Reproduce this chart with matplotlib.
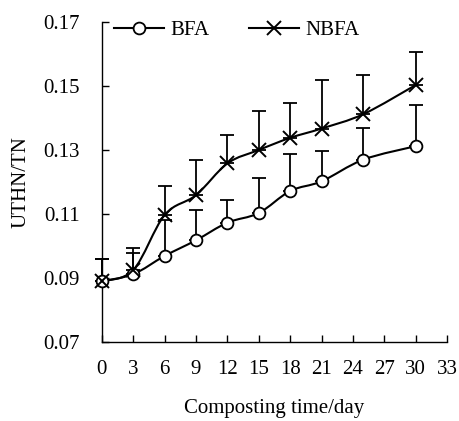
import numpy as np
import matplotlib
matplotlib.use("Agg")
import matplotlib.pyplot as plt
from matplotlib.path import Path
from matplotlib.patches import PathPatch
from matplotlib.lines import Line2D

days = [0, 3, 6, 9, 12, 15, 18, 21, 25, 30]
bfa = [0.0890, 0.0912, 0.0969, 0.1018, 0.1073, 0.1103, 0.1172, 0.1202, 0.1270, 0.1312]
bfa_top = [0.0960, 0.0978, 0.1080, 0.1113, 0.1144, 0.1212, 0.1287, 0.1297, 0.1370, 0.1440]
nbfa = [0.0890, 0.0925, 0.1097, 0.1159, 0.1258, 0.1300, 0.1338, 0.1367, 0.1412, 0.1503]
nbfa_top = [0.0960, 0.0995, 0.1188, 0.1269, 0.1347, 0.1422, 0.1447, 0.1520, 0.1533, 0.1606]
xticks = list(range(0, 34, 3))
yticks = [0.07, 0.09, 0.11, 0.13, 0.15, 0.17]

plt.rcParams['font.family'] = ['Liberation Serif', 'DejaVu Serif']

fig = plt.figure(figsize=(4.59, 4.21), dpi=100)
ax = fig.add_axes([0.222, 0.1876, 0.752, 0.7602])


def smooth_path(xs, ys):
    pts = np.column_stack([xs, ys]).astype(float)
    n = len(pts)
    verts = [pts[0]]
    codes = [Path.MOVETO]
    for i in range(n - 1):
        p0 = pts[i - 1] if i > 0 else pts[i]
        p1 = pts[i]
        p2 = pts[i + 1]
        p3 = pts[i + 2] if i + 2 < n else pts[i + 1]
        c1 = p1 + (p2 - p0) / 6.0
        c2 = p2 - (p3 - p1) / 6.0
        verts += [c1, c2, p2]
        codes += [Path.CURVE4] * 3
    return Path(verts, codes)


for y, top in [(bfa, bfa_top), (nbfa, nbfa_top)]:
    y = np.array(y)
    up = np.array(top) - y
    eb = ax.errorbar(days, y, yerr=[np.zeros_like(up), up], fmt='none',
                     ecolor='black', elinewidth=1.3, capsize=5, capthick=1.3, zorder=2)
    for art in eb.lines[1] + eb.lines[2]:
        art.set_clip_on(False)

for y in [bfa, nbfa]:
    ax.add_patch(PathPatch(smooth_path(days, y), facecolor='none',
                           edgecolor='black', lw=1.5, zorder=3, clip_on=False))

ax.plot(days, bfa, linestyle='none', marker='o', ms=8.5, mfc='white',
        mec='black', mew=1.3, zorder=4, clip_on=False)
ax.plot(days, nbfa, linestyle='none', marker='x', ms=10, mec='black',
        mew=1.4, zorder=5, clip_on=False)

h1 = Line2D([], [], color='black', lw=1.5, marker='o', ms=8.5, mfc='white', mec='black', mew=1.3)
h2 = Line2D([], [], color='black', lw=1.5, marker='x', ms=10, mec='black', mew=1.4)
ax.legend([h1, h2], ['BFA', 'NBFA'], loc='upper left', bbox_to_anchor=(0.01, 1.03),
          ncol=2, frameon=False, fontsize=15, handlelength=2.4, handletextpad=0.3,
          columnspacing=1.9, borderaxespad=0.0)

ax.set_xlim(0, 33)
ax.set_ylim(0.07, 0.17)
ax.set_xticks(xticks)
ax.set_yticks(yticks)
ax.set_yticklabels([f"{v:.2f}" for v in yticks])
ax.spines['top'].set_visible(False)
ax.spines['right'].set_visible(False)
for s in ['left', 'bottom']:
    ax.spines[s].set_linewidth(1.0)
ax.tick_params(axis='both', direction='in', length=5, width=1.0, labelsize=15)
ax.tick_params(axis='y', pad=16)
ax.tick_params(axis='x', pad=13)
ax.set_xlabel('Composting time/day', fontsize=15, labelpad=14)
ax.set_ylabel('UTHN/TN', fontsize=15, labelpad=9)

fig.savefig('out.png', dpi=100)
